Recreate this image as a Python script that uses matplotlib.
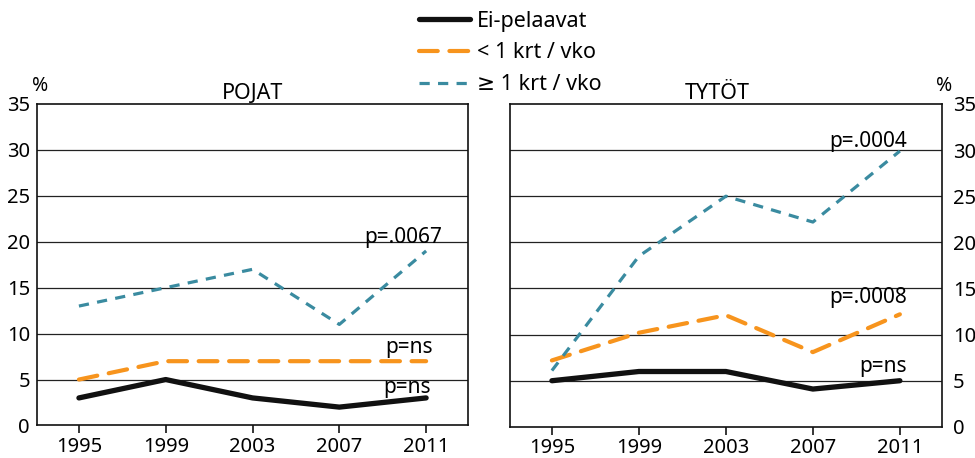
import matplotlib
matplotlib.use('Agg')
import matplotlib.pyplot as plt
from matplotlib.lines import Line2D

plt.rcParams['font.family'] = ['Noto Sans', 'DejaVu Sans']

years = [1995, 1999, 2003, 2007, 2011]
labels = ['Ei-pelaavat', '< 1 krt / vko', '\u2265 1 krt / vko']

boys_none = [3, 5, 3, 2, 3]
boys_low = [5, 7, 7, 7, 7]
boys_high = [13, 15, 17, 11, 19]

girls_none = [5, 6, 6, 4.1, 5]
girls_low = [7.2, 10.2, 12.1, 8.1, 12.2]
girls_high = [6.1, 18.5, 25, 22.2, 29.9]

boys_p = ['p=ns', 'p=ns', 'p=.0067']
girls_p = ['p=ns', 'p=.0008', 'p=.0004']

black = '#111111'
orange = '#F7941D'
teal = '#3A8BA0'
styles = [
    dict(color=black, lw=3.8, ls='-', solid_capstyle='round'),
    dict(color=orange, lw=3.0, ls=(0, (4.5, 2.8)), dash_capstyle='round'),
    dict(color=teal, lw=2.3, ls=(0, (3.2, 2.6)), dash_capstyle='butt'),
]

fig = plt.figure(figsize=(9.75, 4.58), dpi=100)
ax1 = fig.add_axes([0.038, 0.071, 0.442, 0.702])
ax2 = fig.add_axes([0.523, 0.068, 0.443, 0.705])


def draw_panel(ax, series, pvals, ptext_x, ptext_y, title, right):
    for vals, st in zip(series, styles):
        ax.plot(years, vals, **st)
    ax.set_xlim(1993.07, 2012.93)
    ax.set_ylim(0, 35)
    ax.set_xticks(years)
    ax.set_yticks(range(0, 36, 5))
    for y in range(5, 35, 5):
        ax.axhline(y, color='#222222', lw=0.9, zorder=0)
    for s in ax.spines.values():
        s.set_linewidth(1.2)
        s.set_color('#111111')
    ax.tick_params(axis='x', direction='out', length=6, width=1.1, labelsize=14.5, pad=2)
    ax.tick_params(axis='y', length=0, labelsize=14.5, pad=5)
    if right:
        ax.yaxis.tick_right()
        ax.tick_params(axis='y', length=0, pad=8)
    for txt, xv, yv in zip(pvals, ptext_x, ptext_y):
        ax.text(xv, yv, txt, ha='right', va='baseline', fontsize=15)
    ax.set_title(title, fontsize=15.5, pad=3)


draw_panel(ax1, [boys_none, boys_low, boys_high], boys_p,
           [2011.2, 2011.3, 2011.75], [3.5, 7.9, 19.9], 'POJAT', False)
draw_panel(ax2, [girls_none, girls_low, girls_high], girls_p,
           [2011.3, 2011.35, 2011.35], [5.9, 13.4, 30.3], 'TYT\u00d6T', True)
ax2.title.set_position((0.48, 1.0))

fig.text(0.033, 0.79, '%', fontsize=14, ha='left', va='bottom')
fig.text(0.977, 0.79, '%', fontsize=14, ha='right', va='bottom')

handles = [Line2D([], [], **st) for st in styles]
fig.legend(handles, labels, loc='upper center', bbox_to_anchor=(0.523, 1.005),
           frameon=False, fontsize=15.5, handlelength=2.4, handletextpad=0.3,
           labelspacing=0.5, borderpad=0.1)

fig.savefig('out.png', dpi=100)
